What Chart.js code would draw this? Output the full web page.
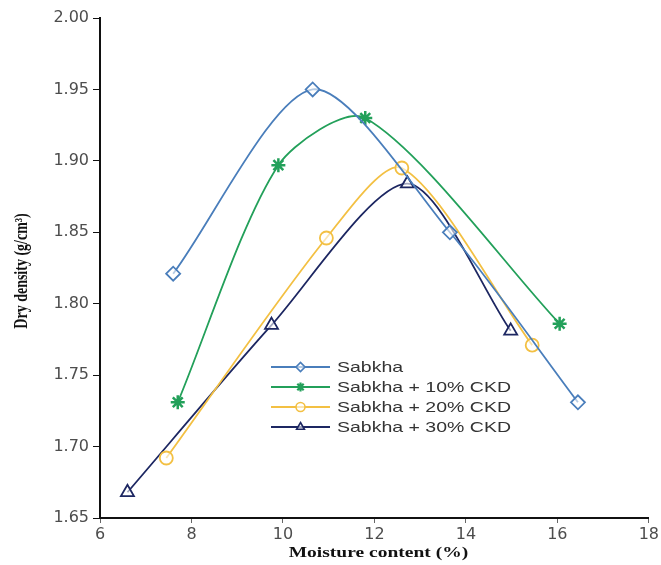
<!DOCTYPE html>
<html>
<head>
<meta charset="utf-8">
<script src="https://cdn.jsdelivr.net/npm/chart.js@4"></script>
<style>
  html, body { margin: 0; padding: 0; background: #fff; }
  #wrap { width: 661px; height: 565px; position: relative; }
</style>
</head>
<body>
<div id="wrap"><canvas id="chart"></canvas></div>
<script>
// Compaction curves: moisture content (%) vs dry density (g/cm3)
const seriesNames = ['Sabkha', 'Sabkha + 10% CKD', 'Sabkha + 20% CKD', 'Sabkha + 30% CKD'];
const sabkhaX = [7.6, 10.65, 13.65, 16.45];
const sabkhaY = [1.821, 1.950, 1.850, 1.731];
const ckd10X = [7.7, 9.9, 11.8, 16.05];
const ckd10Y = [1.731, 1.897, 1.930, 1.786];
const ckd20X = [7.45, 10.95, 12.6, 15.45];
const ckd20Y = [1.692, 1.846, 1.895, 1.771];
const ckd30X = [6.6, 9.75, 12.72, 14.98];
const ckd30Y = [1.668, 1.785, 1.884, 1.781];
const xTicks = [6, 8, 10, 12, 14, 16, 18];
const yTicks = [1.65, 1.70, 1.75, 1.80, 1.85, 1.90, 1.95, 2.00];
const xTitle = 'Moisture content (%)';
const yTitle = 'Dry density (g/cm\u00B3)';

const colors = ['#4a7ebb', '#23a05a', '#f3c043', '#1d2762'];
const markers = ['rectRot', 'star', 'circle', 'triangle'];
const markerSizes = [7, 7, 6.5, 7.5];

// text in this figure is drawn a bit wider than the font's natural width
const STRETCH = 1.3;

function toPoints(xs, ys) {
  return xs.map((x, i) => ({ x: x, y: ys[i] }));
}

const seriesData = [
  toPoints(sabkhaX, sabkhaY),
  toPoints(ckd10X, ckd10Y),
  toPoints(ckd20X, ckd20Y),
  toPoints(ckd30X, ckd30Y)
];

const datasets = seriesData.map((pts, i) => ({
  label: seriesNames[i],
  data: pts,
  borderColor: colors[i],
  backgroundColor: 'rgba(255,255,255,0.6)',
  borderWidth: 1.8,
  pointStyle: markers[i],
  pointRadius: markerSizes[i],
  pointBorderWidth: i === 1 ? 2.5 : 1.8,
  pointBorderColor: colors[i],
  pointBackgroundColor: 'rgba(255,255,255,0.6)',
  tension: 0.27,
  showLine: true,
  fill: false
}));

// legend inside the plot: line with marker in the middle, then label
const legendInside = {
  id: 'legendInside',
  afterDatasetsDraw(chart) {
    const ctx = chart.ctx;
    const x0 = 271, x1 = 330, top = 367, step = 20;
    ctx.save();
    seriesNames.forEach((name, i) => {
      const y = top + i * step;
      ctx.strokeStyle = colors[i];
      ctx.lineWidth = 1.8;
      ctx.beginPath();
      ctx.moveTo(x0, y);
      ctx.lineTo(x1, y);
      ctx.stroke();
      ctx.fillStyle = 'rgba(255,255,255,0.6)';
      ctx.lineWidth = i === 1 ? 2.2 : 1.6;
      Chart.helpers.drawPoint(ctx, {
        pointStyle: markers[i], radius: 4.5, rotation: 0, borderWidth: ctx.lineWidth
      }, (x0 + x1) / 2, y);

      ctx.save();
      ctx.translate(x1 + 7, y + 1);
      ctx.scale(STRETCH, 1);
      ctx.fillStyle = '#333';
      ctx.font = '15px "Liberation Sans", Arial, sans-serif';
      ctx.textBaseline = 'middle';
      ctx.textAlign = 'left';
      ctx.fillText(name, 0, 0);
      ctx.restore();
    });
    ctx.restore();
  }
};

// axis titles, bold serif
const axisTitles = {
  id: 'axisTitles',
  afterDraw(chart) {
    const ctx = chart.ctx;
    const area = chart.chartArea;
    ctx.save();
    ctx.fillStyle = '#111';
    ctx.textAlign = 'center';
    ctx.textBaseline = 'middle';
    ctx.font = 'bold 15px "Liberation Serif", "Times New Roman", serif';

    ctx.save();
    ctx.translate((area.left + area.right) / 2 + 4, 553);
    ctx.scale(STRETCH, 1);
    ctx.fillText(xTitle, 0, 0);
    ctx.restore();

    ctx.font = 'bold 14px "Liberation Serif", "Times New Roman", serif';
    ctx.save();
    ctx.translate(22, (area.top + area.bottom) / 2 + 3);
    ctx.scale(STRETCH, 1);
    ctx.rotate(-Math.PI / 2);
    ctx.fillText(yTitle, 0, 0);
    ctx.restore();

    ctx.restore();
  }
};

new Chart(document.getElementById('chart'), {
  type: 'scatter',
  data: { datasets: datasets },
  options: {
    responsive: true,
    maintainAspectRatio: false,
    animation: false,
    layout: { padding: { top: 18, right: 9, left: 0, bottom: 0 } },
    plugins: {
      legend: { display: false },
      tooltip: { enabled: false }
    },
    scales: {
      x: {
        type: 'linear',
        min: 6,
        max: 18,
        afterBuildTicks: (scale) => { scale.ticks = xTicks.map(v => ({ value: v })); },
        afterFit: (scale) => { scale.height = 47; },
        border: { color: '#111', width: 2 },
        grid: { drawOnChartArea: false, tickLength: 5, color: '#666' },
        ticks: {
          color: '#4d4d4d',
          padding: 2,
          font: { family: '"DejaVu Sans", sans-serif', size: 16 }
        }
      },
      y: {
        type: 'linear',
        min: 1.65,
        max: 2.00,
        afterBuildTicks: (scale) => { scale.ticks = yTicks.map(v => ({ value: v })); },
        afterFit: (scale) => { scale.width = 100; },
        border: { color: '#111', width: 2 },
        grid: { drawOnChartArea: false, tickLength: 7, color: '#111' },
        ticks: {
          color: '#4d4d4d',
          padding: 4,
          font: { family: '"DejaVu Sans", sans-serif', size: 16 },
          callback: (v) => Number(v).toFixed(2)
        }
      }
    }
  },
  plugins: [legendInside, axisTitles]
});
</script>
</body>
</html>
